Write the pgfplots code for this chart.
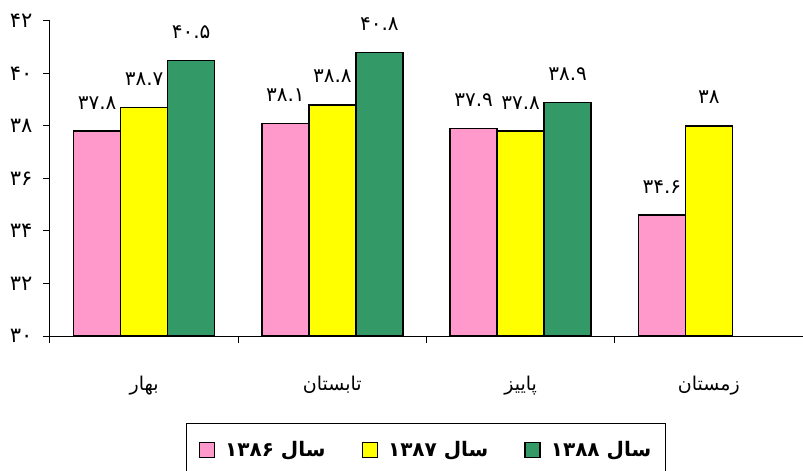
\documentclass[border=0pt]{standalone}
\usepackage{pgfplots}
\pgfplotsset{compat=1.18}
\usepackage{fontspec}
\TeXXeTstate=1
\newfontfamily\arabicfont[Script=Arabic]{DejaVu Sans}
\definecolor{cpink}{HTML}{FF99CC}
\definecolor{cyellow}{HTML}{FFFF00}
\definecolor{cgreen}{HTML}{339966}
\begin{document}
\begin{tikzpicture}
\useasboundingbox (0,0) rectangle (803pt,471pt);
\clip (0,0) rectangle (803pt,471pt);
\begin{axis}[
  at={(50pt,135pt)}, anchor=south west,
  scale only axis, width=753pt, height=315pt,
  xmin=-0.5, xmax=3.5, ymin=30, ymax=42,
  axis lines*=left,
  axis line style={line width=1pt},
  tick style={line width=1pt, black},
  tick align=outside,
  major tick length=7pt, minor tick length=7pt,
  ytick={30,32,34,36,38,40,42},
  yticklabels={۳۰,۳۲,۳۴,۳۶,۳۸,۴۰,۴۲},
  yticklabel style={font=\arabicfont\fontsize{21}{24}\selectfont, xshift=-7pt},
  xtick={0,1,2,3},
  xticklabels={{\beginR بهار\endR},{\beginR تابستان\endR},{\beginR پاییز\endR},{\beginR زمستان\endR}},
  major x tick style={draw=none},
  minor xtick={-0.5,0.5,1.5,2.5,3.5},
  xticklabel style={font=\arabicfont\fontsize{19}{24}\selectfont, yshift=-30pt},
  ybar=0pt, bar width=47pt,
  every axis plot/.append style={draw=black, line width=1.5pt},
  nodes near coords,
  point meta=explicit symbolic,
  nodes near coords style={font=\arabicfont\fontsize{20}{24}\selectfont, yshift=18pt, black},
  legend columns=3,
  legend image code/.code={\draw[#1, line width=1.5pt] (0pt,-7.5pt) rectangle (15pt,7.5pt);},
  legend style={at={(0.4993,-0.276)}, anchor=north, draw=black, line width=1pt,
    font=\arabicfont\bfseries\fontsize{20}{24}\selectfont,
    inner xsep=12pt, inner ysep=16pt,
    /tikz/every odd column/.append style={column sep=8pt},
    /tikz/every even column/.append style={column sep=34pt}},
]
\addplot[fill=cpink] coordinates {(0,37.8)[۳۷.۸] (1,38.1)[۳۸.۱] (2,37.9)[۳۷.۹] (3,34.6)[۳۴.۶]};
\addplot[fill=cyellow] coordinates {(0,38.7)[۳۸.۷] (1,38.8)[۳۸.۸] (2,37.8)[۳۷.۸] (3,38)[۳۸]};
\addplot[fill=cgreen] coordinates {(0,40.5)[۴۰.۵] (1,40.8)[۴۰.۸] (2,38.9)[۳۸.۹]};
\legend{{\beginR سال ۱۳۸۶\endR},{\beginR سال ۱۳۸۷\endR},{\beginR سال ۱۳۸۸\endR}}
\end{axis}
\end{tikzpicture}
\end{document}
